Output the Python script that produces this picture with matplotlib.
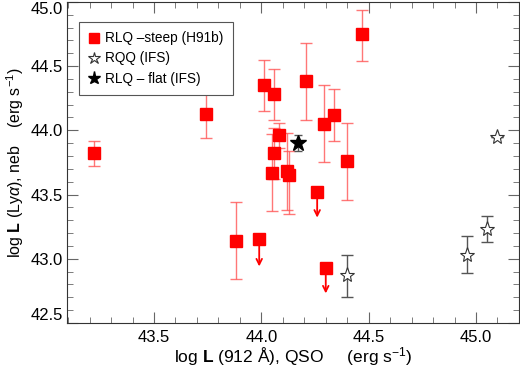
import matplotlib
matplotlib.use("Agg")
import matplotlib.pyplot as plt
import numpy as np

plt.rcParams["font.family"] = ["Liberation Sans", "DejaVu Sans"]
plt.rcParams["mathtext.fontset"] = "custom"
plt.rcParams["mathtext.rm"] = "Liberation Sans"
plt.rcParams["mathtext.it"] = "Liberation Sans:italic"
plt.rcParams["mathtext.bf"] = "Liberation Sans:bold"

# RLQ steep (H91b) detections
steep_x = [43.22, 43.74, 43.88, 44.01, 44.06, 44.08, 44.06, 44.05, 44.12, 44.13, 44.21, 44.29, 44.34, 44.40, 44.47]
steep_y = [43.82, 44.13, 43.14, 44.35, 44.28, 43.96, 43.82, 43.67, 43.68, 43.65, 44.38, 44.05, 44.12, 43.76, 44.75]
steep_hi = [43.92, 44.34, 43.44, 44.55, 44.48, 44.06, 44.02, 43.97, 43.98, 43.84, 44.68, 44.35, 44.32, 44.06, 44.94]
steep_lo = [43.72, 43.94, 42.84, 44.15, 44.08, 43.86, 43.62, 43.37, 43.38, 43.35, 44.08, 43.75, 43.92, 43.46, 44.54]

# RLQ steep upper limits
lim_x = [43.99, 44.26, 44.30]
lim_y = [43.15, 43.52, 42.93]
lim_tip = [42.94, 43.32, 42.73]

# RQQ (IFS)
rqq_x = [44.40, 44.96, 45.05, 45.10]
rqq_y = [42.87, 43.03, 43.23, 43.95]
rqq_hi = [43.03, 43.18, 43.33, 43.95]
rqq_lo = [42.70, 42.89, 43.13, 43.95]

# RLQ flat (IFS)
flat_x = [44.17]
flat_y = [43.90]
flat_hi = [43.96]
flat_lo = [43.84]

xtick_vals = [43.5, 44.0, 44.5, 45.0]
ytick_vals = [42.5, 43.0, 43.5, 44.0, 44.5, 45.0]

fig = plt.figure(figsize=(5.2, 3.67), dpi=100)
ax = fig.add_axes([0.129, 0.12, 0.869, 0.875])

sy = np.array(steep_y)
ax.errorbar(steep_x, steep_y, yerr=[sy - np.array(steep_lo), np.array(steep_hi) - sy],
            fmt="none", ecolor="#ff5555", elinewidth=1, capsize=4, capthick=1, alpha=0.8, zorder=2)
ax.plot(steep_x, steep_y, "s", color="red", markersize=9, zorder=3, label="RLQ \u2013steep (H91b)")
ax.plot(lim_x, lim_y, "s", color="red", markersize=9, zorder=3)
for x, y, t in zip(lim_x, lim_y, lim_tip):
    ax.annotate("", xy=(x, t), xytext=(x, y),
                arrowprops=dict(arrowstyle="->", color="red", lw=1.3, shrinkA=0, shrinkB=0), zorder=3)

ry = np.array(rqq_y)
ax.errorbar(rqq_x, rqq_y, yerr=[ry - np.array(rqq_lo), np.array(rqq_hi) - ry],
            fmt="none", ecolor="#555555", elinewidth=1, capsize=4, capthick=1, zorder=2)
ax.plot(rqq_x, rqq_y, "*", markerfacecolor="white", markeredgecolor="#333333",
        markeredgewidth=0.8, markersize=11, zorder=3, label="RQQ (IFS)")

fy = np.array(flat_y)
ax.errorbar(flat_x, flat_y, yerr=[fy - np.array(flat_lo), np.array(flat_hi) - fy],
            fmt="none", ecolor="#555555", elinewidth=1, capsize=3, capthick=1, zorder=2)
ax.plot(flat_x, flat_y, "*", color="black", markersize=12, zorder=3, label="RLQ \u2013 flat (IFS)")

ax.set_xlim(43.095, 45.2)
ax.set_ylim(42.5, 45.0)
ax.set_xticks(xtick_vals)
ax.set_xticklabels([f"{v:.1f}" for v in xtick_vals])
ax.set_yticks(ytick_vals)
ylabels = ax.set_yticklabels([f"{v:.1f}" for v in ytick_vals])
ylabels[0].set_verticalalignment("bottom")
ylabels[-1].set_verticalalignment("top")
ax.set_xticks(np.arange(43.1, 45.21, 0.1), minor=True)
ax.set_yticks(np.arange(42.5, 45.01, 0.1), minor=True)
ax.tick_params(which="both", direction="in", top=True, right=True, color="#666666", labelsize=12)
ax.tick_params(which="major", length=8)
ax.tick_params(which="minor", length=4)
ax.tick_params(axis="x", pad=5)
ax.tick_params(axis="y", pad=3)
for s in ax.spines.values():
    s.set_color("#333333")

ax.set_xlabel(r"log $\mathbf{L}$ (912 $\mathrm{\AA}$), QSO     (erg s$^{-1}$)", fontsize=12.5, labelpad=0)
ax.set_ylabel(r"log $\mathbf{L}$ (Ly$\alpha$), neb    (erg s$^{-1}$)", fontsize=11.5, labelpad=3)

leg = ax.legend(loc="upper left", bbox_to_anchor=(0.027, 0.938), borderaxespad=0, fontsize=9.8,
                handlelength=0.8, handletextpad=0.4, borderpad=0.7, labelspacing=0.45,
                markerscale=0.8, fancybox=False, framealpha=1)
leg.get_frame().set_edgecolor("#555555")
leg.get_frame().set_linewidth(0.8)

fig.savefig("out.png", dpi=100)
